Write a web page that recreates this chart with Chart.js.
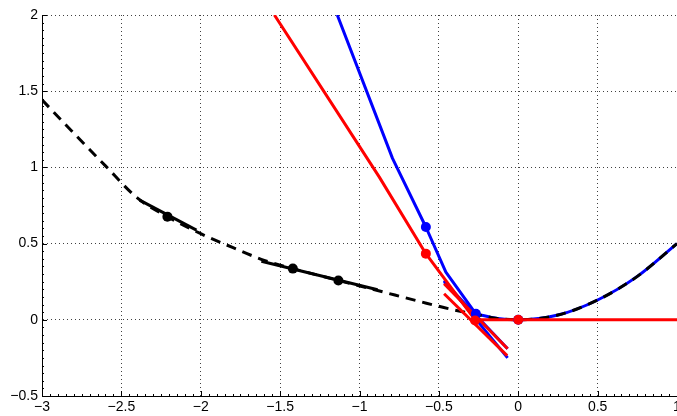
<!DOCTYPE html>
<html>
<head>
<meta charset="utf-8">
<script src="https://cdn.jsdelivr.net/npm/chart.js@4/dist/chart.umd.min.js"></script>
<style>
html,body{margin:0;padding:0;background:#fff;}
#wrap{width:677px;height:416px;}
</style>
</head>
<body>
<div id="wrap"><canvas id="c" width="677" height="416"></canvas></div>
<script>
// ---- tick values & labels ----
const xTickValues = [-3, -2.5, -2, -1.5, -1, -0.5, 0, 0.5, 1];
const xTickLabels = ['\u22123', '\u22122.5', '\u22122', '\u22121.5', '\u22121', '\u22120.5', '0', '0.5', '1'];
const yTickValues = [-0.5, 0, 0.5, 1, 1.5, 2];
const yTickLabels = ['\u22120.5', '0', '0.5', '1', '1.5', '2'];

// ---- black dashed curve ----
const curveX = [-3, -2.8, -2.6, -2.4, -2.21, -2.0, -1.8, -1.6, -1.42, -1.133, -0.886, -0.62, -0.435, -0.267, -0.13, 0, 0.25, 0.5, 0.75, 1];
const curveY = [1.443, 1.225, 1.01, 0.80, 0.677, 0.565, 0.475, 0.39, 0.336, 0.258, 0.192, 0.12, 0.072, 0.036, 0.008, 0, 0.031, 0.13, 0.285, 0.5];

// ---- blue curve ----
const blueLineX = [-1.14, -0.792, -0.582, -0.456, -0.267];
const blueLineY = [2, 1.059, 0.609, 0.313, 0.039];
const blueArcX = [-0.267, -0.13, 0, 0.25, 0.5, 0.75, 1];
const blueArcY = [0.039, 0.008, 0, 0.031, 0.13, 0.285, 0.5];
const blueTan1X = [-0.467, -0.067];
const blueTan1Y = [0.259, -0.25];
const blueTan2X = [-0.467, -0.067];
const blueTan2Y = [0.25, -0.19];
const bluePtsX = [-0.582, -0.267, 0];
const bluePtsY = [0.609, 0.039, 0];

// ---- red lines ----
const redLineX = [-1.536, -0.876, -0.582, -0.272, 1];
const redLineY = [2, 0.938, 0.434, 0, 0];
const redTan1X = [-0.467, -0.067];
const redTan1Y = [0.237, -0.19];
const redTan2X = [-0.467, -0.07];
const redTan2Y = [0.171, -0.235];
const redPtsX = [-0.582, -0.272, 0];
const redPtsY = [0.434, -0.005, 0];

// ---- black solid segments & points ----
const blackSegAX = [-2.385, -2.027];
const blackSegAY = [0.785, 0.588];
const blackSegBX = [-1.618, -0.886];
const blackSegBY = [0.384, 0.197];
const blackPtsX = [-2.21, -1.42, -1.133];
const blackPtsY = [0.677, 0.336, 0.258];

const pts = (xs, ys) => xs.map((x, i) => ({x: x, y: ys[i]}));

function lineDs(xs, ys, color, order, extra) {
  return Object.assign({
    data: pts(xs, ys), showLine: true, borderColor: color, backgroundColor: color,
    borderWidth: 3, pointRadius: 0, pointHoverRadius: 0, tension: 0, order: order,
    borderCapStyle: 'butt', borderJoinStyle: 'round'
  }, extra || {});
}
function markDs(xs, ys, color, order) {
  return {
    data: pts(xs, ys), showLine: false, borderColor: color, backgroundColor: color,
    pointRadius: 5, pointBorderWidth: 0, pointHoverRadius: 5, order: order
  };
}

const datasets = [
  markDs(redPtsX, redPtsY, '#ff0000', 0),
  markDs(bluePtsX, bluePtsY, '#0000ff', 1),
  markDs(blackPtsX, blackPtsY, '#000000', 2),
  lineDs(redLineX, redLineY, '#ff0000', 3),
  lineDs(redTan1X, redTan1Y, '#ff0000', 3),
  lineDs(redTan2X, redTan2Y, '#ff0000', 3),
  lineDs(blackSegAX, blackSegAY, '#000000', 4),
  lineDs(blackSegBX, blackSegBY, '#000000', 4),
  lineDs(curveX, curveY, '#000000', 5, {borderDash: [10, 7], cubicInterpolationMode: 'monotone'}),
  lineDs(blueLineX, blueLineY, '#0000ff', 6),
  lineDs(blueArcX, blueArcY, '#0000ff', 6, {cubicInterpolationMode: 'monotone'}),
  lineDs(blueTan1X, blueTan1Y, '#0000ff', 6),
  lineDs(blueTan2X, blueTan2Y, '#0000ff', 6)
];

const tickPlugin = {
  id: 'axisTicks',
  afterDraw(chart) {
    const ctx = chart.ctx;
    const xs = chart.scales.x, ys = chart.scales.y;
    const area = chart.chartArea;
    ctx.save();
    ctx.strokeStyle = '#000';
    ctx.lineWidth = 1;
    ctx.beginPath();
    for (let i = 0; i <= 80; i++) {
      const v = -3 + i * 0.05;
      const px = Math.round(xs.getPixelForValue(v)) + 0.5;
      const len = (i % 10 === 0) ? 5 : 2;
      ctx.moveTo(px, area.bottom);
      ctx.lineTo(px, area.bottom - len);
    }
    for (let i = 0; i <= 50; i++) {
      const v = -0.5 + i * 0.05;
      const py = Math.round(ys.getPixelForValue(v)) + 0.5;
      const len = (i % 10 === 0) ? 5 : 2;
      ctx.moveTo(area.left, py);
      ctx.lineTo(area.left + len, py);
    }
    ctx.stroke();
    ctx.restore();
  }
};

new Chart(document.getElementById('c'), {
  type: 'scatter',
  data: {datasets: datasets},
  options: {
    responsive: false,
    animation: false,
    devicePixelRatio: 1,
    layout: {autoPadding: false, padding: {top: 15, right: 0, left: 0, bottom: 0}},
    plugins: {legend: {display: false}, tooltip: {enabled: false}},
    scales: {
      x: {
        type: 'linear', min: -3, max: 1,
        afterBuildTicks: s => { s.ticks = xTickValues.map(v => ({value: v})); },
        afterFit: s => { s.height = 20; s.paddingLeft = 0; s.paddingRight = 0; },
        ticks: {
          autoSkip: false, maxRotation: 0, padding: 3, color: '#000',
          font: {family: 'Liberation Sans', size: 14},
          callback: (v, i) => xTickLabels[i]
        },
        grid: {color: 'rgba(0,0,0,0.75)', lineWidth: 1, drawTicks: false},
        border: {display: true, color: '#000', width: 1, dash: [1, 3]}
      },
      y: {
        type: 'linear', min: -0.5, max: 2,
        afterBuildTicks: s => { s.ticks = yTickValues.map(v => ({value: v})); },
        afterFit: s => { s.width = 42; s.paddingTop = 0; s.paddingBottom = 0; },
        ticks: {
          autoSkip: false, padding: 4, color: '#000',
          font: {family: 'Liberation Sans', size: 14},
          callback: (v, i) => yTickLabels[i]
        },
        grid: {color: 'rgba(0,0,0,0.75)', lineWidth: 1, drawTicks: false},
        border: {display: true, color: '#000', width: 1, dash: [1, 3]}
      }
    }
  },
  plugins: [tickPlugin]
});
</script>
</body>
</html>
